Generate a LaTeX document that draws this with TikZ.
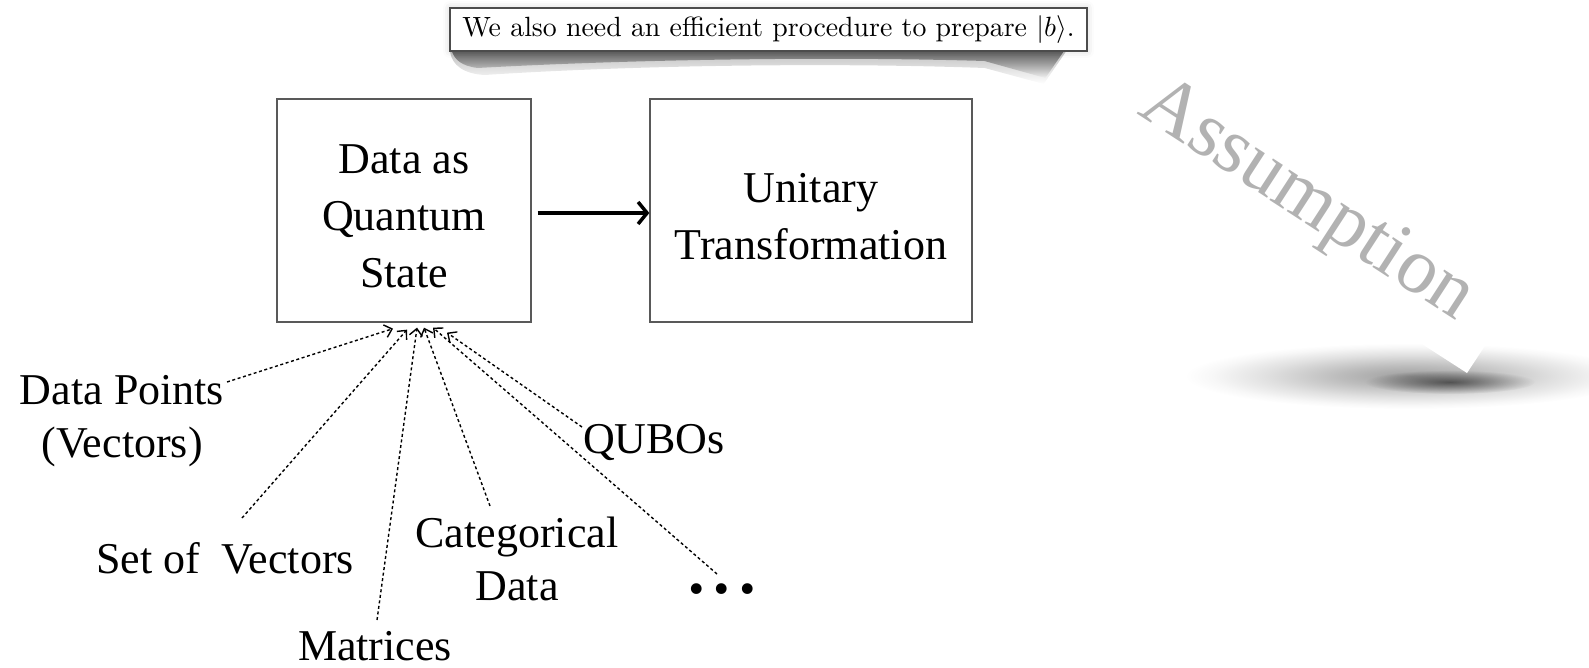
\documentclass[tikz,border=0pt]{standalone}
\usepackage{fontspec}
\usetikzlibrary{arrows.meta,fadings,shadows.blur}
\newfontfamily\tms{Liberation Serif}
\newfontfamily\lmr{lmroman10-regular}[Extension=.otf]

% radial grey-to-white shading for the stamp's floor shadow
\pgfdeclareradialshading{stampshade}{\pgfpoint{0bp}{0bp}}{%
  color(0bp)=(black!38); color(8bp)=(black!26); color(16bp)=(black!12);
  color(22bp)=(black!3); color(25bp)=(white); color(50bp)=(white)}
\tikzfading[name=spot, inner color=transparent!0, outer color=transparent!100]

\begin{document}
\begin{tikzpicture}[x=1pt,y=-1pt,
  lbl/.style={font=\tms\fontsize{44}{53}\selectfont, align=center, inner sep=0pt},
  boxtxt/.style={font=\tms\fontsize{44}{57}\selectfont, align=center, inner sep=0pt},
  stage/.style={draw=black!65, line width=1.3pt, rectangle, inner sep=0pt},
  feed/.style={line width=1.4pt, dash pattern=on 3pt off 2.6pt,
    -{Straight Barb[length=7pt,width=13pt,line width=1.4pt]}},
  flow/.style={line width=3.5pt, -{Straight Barb[length=9pt,width=22pt]}},
  notebox/.style={draw=black!70, line width=1.2pt, fill=white, inner sep=0pt,
    minimum width=637pt, minimum height=43pt},
]
\useasboundingbox (0,0) rectangle (1589,668);

% ---- floor shadow and paper corner of the stamp ----
\shade[shading=stampshade] (1410,376) ellipse [x radius=225pt, y radius=33pt];
\fill[black, opacity=0.55, path fading=spot] (1450,382) ellipse [x radius=85pt, y radius=12pt];
\fill[white] (1467,373) -- (1366,308) -- (1399,258) -- (1500,323) -- cycle;
\node[font=\tms\fontsize{79}{79}\selectfont, text=black!30, rotate=-33,
  anchor=base west, inner sep=0pt] (stamp) at (1136,113) {Assumption};

% ---- note with curled, softened shadow ----
\fill[black, opacity=0.25, path fading=south]
  (450,51) .. controls (452,66) and (465,74) .. (485,75)
  .. controls (620,66) and (820,62) .. (985,68) -- (1044,84) -- (1066,52) -- cycle;
\fill[black, opacity=0.5, path fading=south]
  (452,51) .. controls (455,60) and (462,66) .. (478,68)
  .. controls (620,60) and (820,56) .. (985,61) -- (1046,78) -- (1064,52) -- cycle;
\node[notebox, blur shadow={shadow xshift=0pt, shadow yshift=0pt,
  shadow blur radius=7pt, shadow opacity=18}] (note) at (768.5,29.5)
  {\resizebox{612pt}{!}{\lmr We also need an efficient procedure to prepare $|b\rangle$.}};

% ---- stages ----
\node[stage, minimum width=254pt, minimum height=223pt] (state) at (404,210.5) {};
\node[stage, minimum width=322pt, minimum height=223pt] (unitary) at (811,210.5) {};
\node[boxtxt] (statetxt) at (404,216) {Data as\\Quantum\\State};
\node[boxtxt] (unitxt) at (811,216.5) {Unitary\\Transformation};
\draw[flow] ([xshift=6pt,yshift=-2.5pt]state.east) -- ([yshift=-2.5pt]unitary.west);

% ---- data sources ----
\node[lbl] (dp) at (122,421) {Data Points\\(Vectors)};
\node[lbl] (sv) at (225,558.5) {Set of\ \ Vectors};
\node[lbl] (mx) at (375,646.5) {Matrices};
\node[lbl] (cd) at (517,558.5) {Categorical\\Data};
\node[lbl] (qb) at (654,442.5) {QUBOs};
\node[font=\tms\bfseries\fontsize{66}{66}\selectfont, inner sep=0pt] (etc) at (722,589)
  {.\kern9pt.\kern9pt.};

\coordinate (dpS) at (227,382);
\coordinate (svS) at (242,518);
\coordinate (mxS) at (377,620);
\coordinate (cdS) at (490,506);
\coordinate (etS) at (717,574);
\coordinate (qbS) at (582,427);

\draw[feed] (dpS) -- ([xshift=-11pt,yshift=-6pt]state.south);
\draw[feed] (svS) -- ([xshift=3pt,yshift=-7pt]state.south);
\draw[feed] (mxS) -- ([xshift=13pt,yshift=-5pt]state.south);
\draw[feed] (cdS) -- ([xshift=20pt,yshift=-5pt]state.south);
\draw[feed] (etS) -- ([xshift=29pt,yshift=-5pt]state.south);
\draw[feed] (qbS) -- ([xshift=43pt,yshift=-10pt]state.south);
\end{tikzpicture}
\end{document}
